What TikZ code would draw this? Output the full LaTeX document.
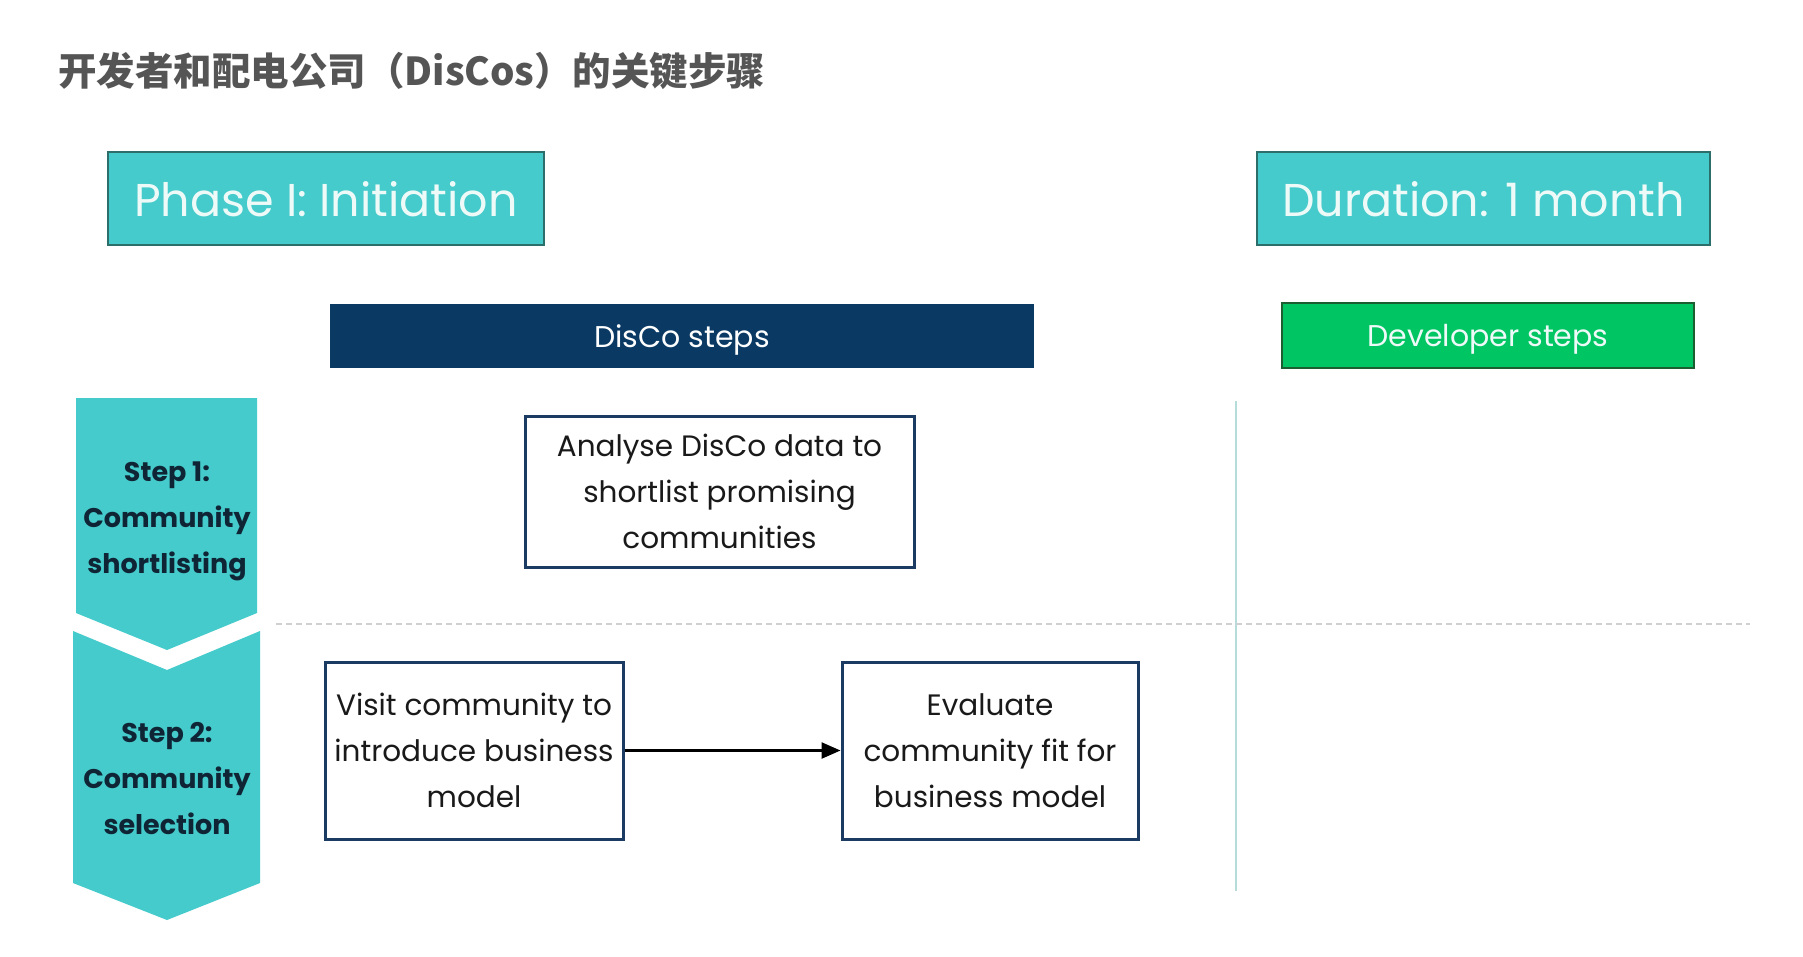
\documentclass[tikz,border=0pt]{standalone}
\usepackage{fontspec}
\setmainfont{Poppins}
\newfontfamily\cjk{Noto Sans CJK SC}
\usetikzlibrary{arrows.meta}
\definecolor{tealfill}{HTML}{45CBCB}
\definecolor{tealdark}{HTML}{2C6E6A}
\definecolor{navy}{HTML}{0A3A64}
\definecolor{boxline}{HTML}{1C3B63}
\definecolor{greenfill}{HTML}{00C563}
\definecolor{greendark}{HTML}{1B5E32}
\definecolor{titlegray}{HTML}{555555}
\definecolor{paletext}{HTML}{EEFAF8}
\definecolor{steptext}{HTML}{0F2535}
\definecolor{vline}{HTML}{B5DCD8}
\definecolor{dline}{HTML}{D0D0D0}
\tikzset{
  phasebox/.style={draw=tealdark, line width=2.5pt, fill=tealfill, text=paletext,
    minimum width=436pt, minimum height=93pt, inner sep=0pt, text depth=0pt,
    font=\fontsize{46}{50}\selectfont},
  headbar/.style={fill=navy, text=white, minimum height=64pt, inner sep=0pt,
    text depth=0pt, font=\fontsize{30}{34}\selectfont},
  devbar/.style={draw=greendark, line width=2.5pt, fill=greenfill, text=paletext,
    minimum height=65pt, inner sep=0pt, text depth=0pt,
    font=\fontsize{30}{34}\selectfont},
  stepbox/.style={draw=boxline, line width=3pt, fill=white, text=black!90,
    align=center, inner sep=0pt, font=\fontsize{29.5}{46}\selectfont},
  steplabel/.style={text=steptext, align=center, inner sep=0pt,
    font=\fontsize{27}{46}\selectfont\bfseries},
  chevron/.style={fill=tealfill},
  flow/.style={line width=2.5pt, -{Triangle[length=19pt,width=16pt]}}
}
\begin{document}
\begin{tikzpicture}[x=1pt,y=-1pt]
\useasboundingbox[fill=white] (0,0) rectangle (1803,956);

% title
\node[anchor=west, inner sep=0pt, text=titlegray, font=\cjk\bfseries\fontsize{38.5}{42}\selectfont]
  (title) at (58,71) {开发者和配电公司（DisCos）的关键步骤};

% phase and duration boxes
\node[phasebox] (phase) at (326,198.5) {Phase I: Initiation};
\node[phasebox, minimum width=453pt] (duration) at (1483.5,198.5) {Duration: 1 month};

% column headers
\node[headbar, minimum width=704pt] (disco) at (682,336) {DisCo steps};
\node[devbar, minimum width=412pt] (dev) at (1488,335.5) {Developer steps};

% separators
\coordinate (vtop) at (1236,401);
\coordinate (vbot) at (1236,891);
\draw[vline, line width=2.5pt] (vtop) -- (vbot);
\coordinate (dleft) at (276,624);
\coordinate (dright) at (1750,624);
\draw[dline, line width=1.5pt, dash pattern=on 6pt off 4pt] (dleft) -- (dright);

% chevrons
\fill[chevron] (76,398) -- (257,398) -- (257,613) -- (167,650) -- (76,613) -- cycle;
\fill[chevron] (73,631) -- (167,670) -- (260,631) -- (260,883) -- (167,920) -- (73,883) -- cycle;
\node[steplabel] (s1) at (167,521) {Step 1:\\Community\\shortlisting};
\node[steplabel] (s2) at (167,779) {Step 2:\\Community\\selection};

% process boxes
\node[stepbox, minimum width=389pt, minimum height=151pt] (analyse) at (719.5,491.5)
  {Analyse DisCo data to\\shortlist promising\\communities};
\node[stepbox, minimum width=298pt, minimum height=177pt] (visit) at (474,750.5)
  {Visit community to\\introduce business\\model};
\node[stepbox, minimum width=296pt, minimum height=177pt] (evaluate) at (990,750.5)
  {Evaluate\\community fit for\\business model};

\draw[flow] (visit.east) -- (evaluate.west);
\end{tikzpicture}
\end{document}
